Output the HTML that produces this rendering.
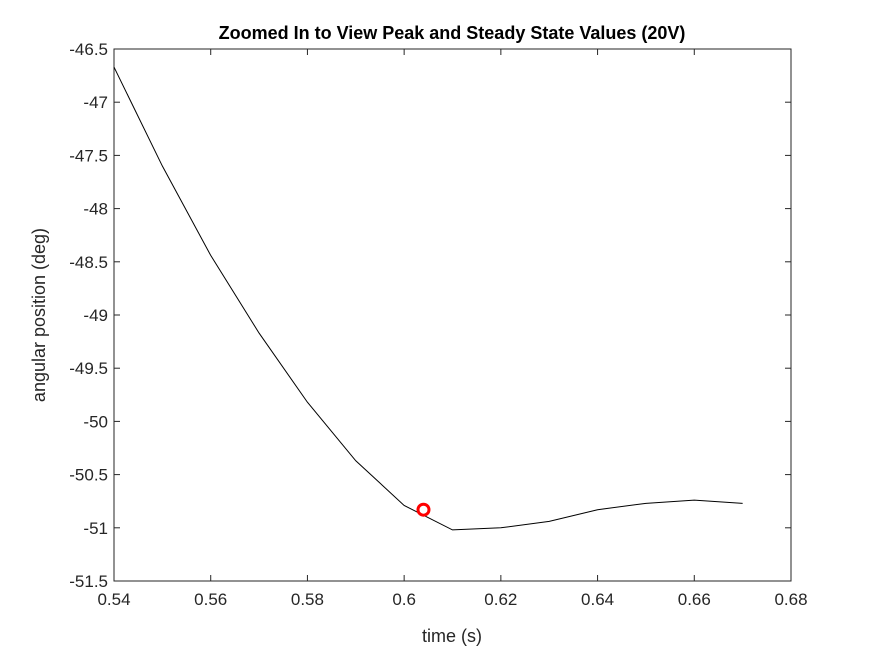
<!DOCTYPE html>
<html><head><meta charset="utf-8"><style>
body{margin:0;background:#fff;}
svg text{font-family:"Liberation Sans",Arial,sans-serif;}
</style></head><body>
<svg width="875" height="656">
<rect x="0" y="0" width="875" height="656" fill="#fff"/>
<g id="plot"></g>
</svg>
<script>
const times=[0.54,0.55,0.56,0.57,0.58,0.59,0.60,0.61,0.62,0.63,0.64,0.65,0.66,0.67];
const positions=[-46.67,-47.6,-48.44,-49.17,-49.82,-50.37,-50.79,-51.02,-51.0,-50.94,-50.83,-50.77,-50.74,-50.77];
const markerT=[0.604];
const markerV=[-50.83];
const xTicks=[0.54,0.56,0.58,0.6,0.62,0.64,0.66,0.68];
const xTickLabels=["0.54","0.56","0.58","0.6","0.62","0.64","0.66","0.68"];
const yTicks=[-46.5,-47,-47.5,-48,-48.5,-49,-49.5,-50,-50.5,-51,-51.5];
const yTickLabels=["-46.5","-47","-47.5","-48","-48.5","-49","-49.5","-50","-50.5","-51","-51.5"];
const L=114,R=791,T=49,B=581;
const xs=v=>L+(v-0.54)/(0.68-0.54)*(R-L);
const ys=v=>T+(-46.5-v)/5*(B-T);
const NS="http://www.w3.org/2000/svg";
const g=document.getElementById('plot');
function mk(t,a){const e=document.createElementNS(NS,t);for(const k in a)e.setAttribute(k,a[k]);g.appendChild(e);return e;}
let e=mk('rect',{x:L,y:T,width:R-L,height:B-T,fill:'none',stroke:'#262626','stroke-width':1});


xTicks.forEach((v,i)=>{const x=xs(v);
let t=mk('line',{x1:x,x2:x,y1:B,y2:B-6,stroke:'#262626'});


t=mk('line',{x1:x,x2:x,y1:T,y2:T+6,stroke:'#262626'});


const l=mk('text',{x:x,y:B+24,'text-anchor':'middle','font-size':17,fill:'#262626'});l.textContent=xTickLabels[i];

});
yTicks.forEach((v,i)=>{const y=ys(v);
let t=mk('line',{x1:L,x2:L+6,y1:y,y2:y,stroke:'#262626'});


t=mk('line',{x1:R,x2:R-6,y1:y,y2:y,stroke:'#262626'});


const l=mk('text',{x:L-6,y:y+6,'text-anchor':'end','font-size':17,fill:'#262626'});l.textContent=yTickLabels[i];

});
const line=mk('polyline',{points:times.map((t,i)=>xs(t)+','+ys(positions[i])).join(' '),fill:'none',stroke:'#000','stroke-width':1});


markerT.forEach((t,i)=>{const c=mk('circle',{cx:xs(t),cy:ys(markerV[i]),r:5.5,fill:'none',stroke:'#f00','stroke-width':3});

});
let tt=mk('text',{x:452,y:39,'text-anchor':'middle','font-size':18,'font-weight':'bold',fill:'#000'});tt.textContent='Zoomed In to View Peak and Steady State Values (20V)';


tt=mk('text',{x:452,y:642,'text-anchor':'middle','font-size':18,fill:'#262626'});tt.textContent='time (s)';


tt=mk('text',{x:45,y:315,'text-anchor':'middle','font-size':18,fill:'#262626',transform:'rotate(-90 45 315)'});tt.textContent='angular position (deg)';


</script>
</body></html>
